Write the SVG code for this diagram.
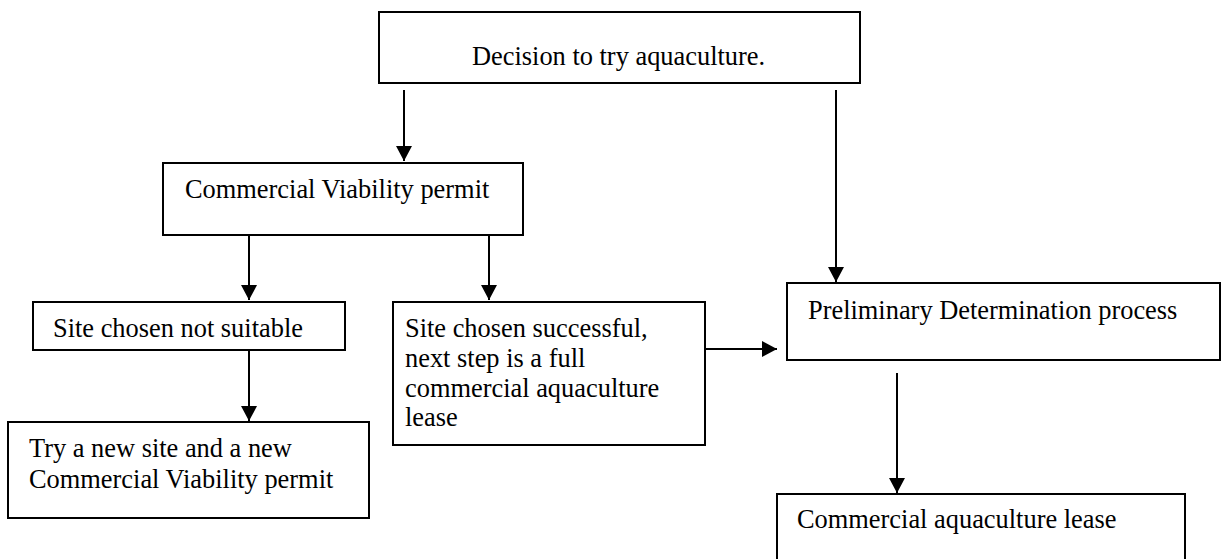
<svg xmlns="http://www.w3.org/2000/svg" width="1222" height="559" viewBox="0 0 1222 559">
<style>
.box{fill:#fff;stroke:#000;stroke-width:2}
.t{font-family:"Liberation Serif","Times New Roman",serif;font-size:26.4px;fill:#000}
.c{stroke:#000;stroke-width:2;fill:none}
</style>
<defs>
<marker id="ah" markerUnits="userSpaceOnUse" markerWidth="16" markerHeight="16" viewBox="0 0 16 16" refX="15" refY="8" orient="auto">
<path d="M0,0 L15,8 L0,16 Z" fill="#000"/>
</marker>
</defs>
<rect width="1222" height="559" fill="#fff"/>
<g id="connectors">
<path class="c" d="M404,90 V161" marker-end="url(#ah)"/>
<path class="c" d="M836,90 V282" marker-end="url(#ah)"/>
<path class="c" d="M249,236 V300" marker-end="url(#ah)"/>
<path class="c" d="M489,236 V300" marker-end="url(#ah)"/>
<path class="c" d="M249,351 V421" marker-end="url(#ah)"/>
<path class="c" d="M706,349 H777" marker-end="url(#ah)"/>
<path class="c" d="M897,373 V493" marker-end="url(#ah)"/>
</g>
<g id="decision">
<rect class="box" x="379" y="12" width="481" height="71"/>
<text class="t" x="472" y="65">Decision to try aquaculture.</text>
</g>
<g id="cv-permit">
<rect class="box" x="163" y="163" width="360" height="72"/>
<text class="t" x="185" y="198">Commercial Viability permit</text>
</g>
<g id="not-suitable">
<rect class="box" x="33" y="302" width="312" height="48"/>
<text class="t" x="53" y="337">Site chosen not suitable</text>
</g>
<g id="new-site">
<rect class="box" x="8" y="422" width="361" height="96"/>
<text class="t" x="29" y="457">Try a new site and a new</text>
<text class="t" x="29" y="488">Commercial Viability permit</text>
</g>
<g id="successful">
<rect class="box" x="393" y="302" width="312" height="143"/>
<text class="t" x="405" y="337">Site chosen successful,</text>
<text class="t" x="405" y="367">next step is a full</text>
<text class="t" x="405" y="397">commercial aquaculture</text>
<text class="t" x="405" y="426">lease</text>
</g>
<g id="preliminary">
<rect class="box" x="787" y="283" width="433" height="77"/>
<text class="t" x="808" y="319">Preliminary Determination process</text>
</g>
<g id="lease">
<rect class="box" x="777" y="494" width="408" height="72"/>
<text class="t" x="797" y="528">Commercial aquaculture lease</text>
</g>
</svg>
